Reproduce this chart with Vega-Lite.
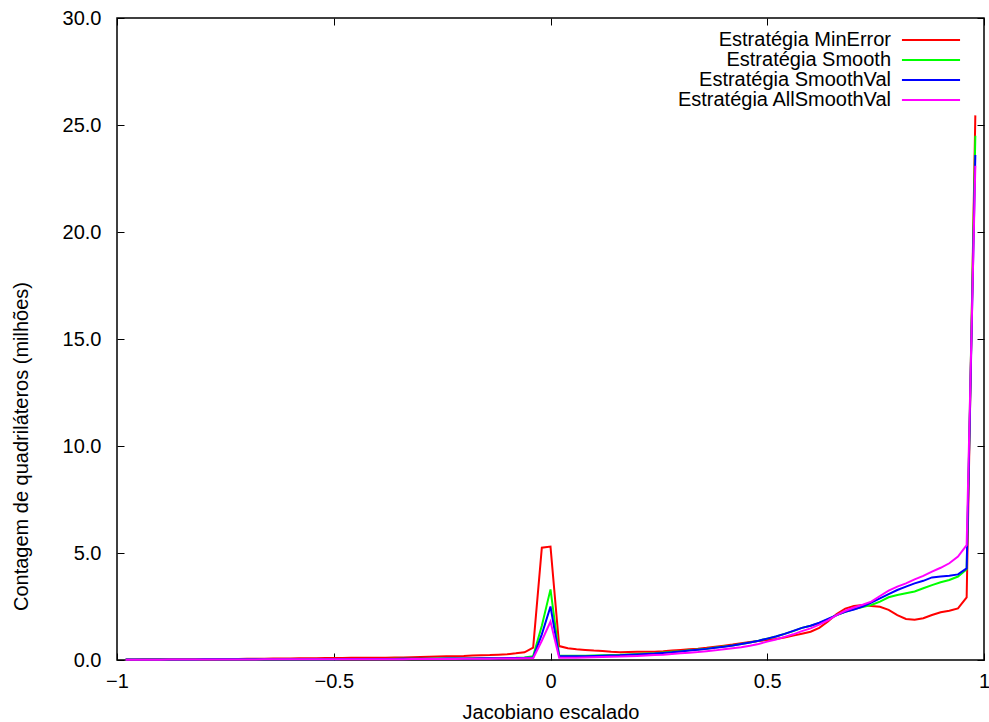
{
  "$schema": "https://vega.github.io/schema/vega-lite/v6.json",
  "width": 867,
  "height": 642,
  "autosize": "none",
  "padding": {"left": 117, "top": 18, "right": 5, "bottom": 62},
  "background": "white",
  "config": {
    "font": "Liberation Sans",
    "view": {"stroke": "black", "strokeWidth": 1.5},
    "axis": {
      "grid": false,
      "domain": false,
      "tickColor": "black",
      "tickWidth": 1,
      "labelColor": "black",
      "titleColor": "black",
      "labelFontSize": 20,
      "titleFontSize": 20,
      "titleFontWeight": "normal",
      "labelFlush": false
    }
  },
  "data": {
    "values": [
      {"x": -0.98, "MinError": 0.02, "Smooth": 0.02, "SmoothVal": 0.02, "AllSmoothVal": 0.01},
      {"x": -0.96, "MinError": 0.02, "Smooth": 0.02, "SmoothVal": 0.02, "AllSmoothVal": 0.01},
      {"x": -0.94, "MinError": 0.03, "Smooth": 0.02, "SmoothVal": 0.02, "AllSmoothVal": 0.01},
      {"x": -0.92, "MinError": 0.03, "Smooth": 0.02, "SmoothVal": 0.02, "AllSmoothVal": 0.01},
      {"x": -0.90, "MinError": 0.03, "Smooth": 0.02, "SmoothVal": 0.02, "AllSmoothVal": 0.01},
      {"x": -0.88, "MinError": 0.03, "Smooth": 0.02, "SmoothVal": 0.02, "AllSmoothVal": 0.02},
      {"x": -0.86, "MinError": 0.03, "Smooth": 0.02, "SmoothVal": 0.02, "AllSmoothVal": 0.02},
      {"x": -0.84, "MinError": 0.04, "Smooth": 0.02, "SmoothVal": 0.02, "AllSmoothVal": 0.02},
      {"x": -0.82, "MinError": 0.04, "Smooth": 0.02, "SmoothVal": 0.02, "AllSmoothVal": 0.02},
      {"x": -0.80, "MinError": 0.04, "Smooth": 0.03, "SmoothVal": 0.03, "AllSmoothVal": 0.02},
      {"x": -0.78, "MinError": 0.04, "Smooth": 0.03, "SmoothVal": 0.03, "AllSmoothVal": 0.02},
      {"x": -0.76, "MinError": 0.05, "Smooth": 0.03, "SmoothVal": 0.03, "AllSmoothVal": 0.02},
      {"x": -0.74, "MinError": 0.05, "Smooth": 0.03, "SmoothVal": 0.03, "AllSmoothVal": 0.02},
      {"x": -0.72, "MinError": 0.05, "Smooth": 0.03, "SmoothVal": 0.03, "AllSmoothVal": 0.02},
      {"x": -0.70, "MinError": 0.06, "Smooth": 0.03, "SmoothVal": 0.03, "AllSmoothVal": 0.02},
      {"x": -0.68, "MinError": 0.06, "Smooth": 0.03, "SmoothVal": 0.03, "AllSmoothVal": 0.02},
      {"x": -0.66, "MinError": 0.06, "Smooth": 0.03, "SmoothVal": 0.03, "AllSmoothVal": 0.03},
      {"x": -0.64, "MinError": 0.07, "Smooth": 0.03, "SmoothVal": 0.03, "AllSmoothVal": 0.03},
      {"x": -0.62, "MinError": 0.07, "Smooth": 0.03, "SmoothVal": 0.03, "AllSmoothVal": 0.03},
      {"x": -0.60, "MinError": 0.07, "Smooth": 0.04, "SmoothVal": 0.04, "AllSmoothVal": 0.03},
      {"x": -0.58, "MinError": 0.08, "Smooth": 0.04, "SmoothVal": 0.04, "AllSmoothVal": 0.03},
      {"x": -0.56, "MinError": 0.08, "Smooth": 0.04, "SmoothVal": 0.04, "AllSmoothVal": 0.03},
      {"x": -0.54, "MinError": 0.08, "Smooth": 0.04, "SmoothVal": 0.04, "AllSmoothVal": 0.03},
      {"x": -0.52, "MinError": 0.09, "Smooth": 0.04, "SmoothVal": 0.04, "AllSmoothVal": 0.03},
      {"x": -0.50, "MinError": 0.09, "Smooth": 0.04, "SmoothVal": 0.04, "AllSmoothVal": 0.03},
      {"x": -0.48, "MinError": 0.09, "Smooth": 0.05, "SmoothVal": 0.05, "AllSmoothVal": 0.03},
      {"x": -0.46, "MinError": 0.10, "Smooth": 0.05, "SmoothVal": 0.05, "AllSmoothVal": 0.04},
      {"x": -0.44, "MinError": 0.10, "Smooth": 0.05, "SmoothVal": 0.05, "AllSmoothVal": 0.04},
      {"x": -0.42, "MinError": 0.10, "Smooth": 0.05, "SmoothVal": 0.05, "AllSmoothVal": 0.04},
      {"x": -0.40, "MinError": 0.11, "Smooth": 0.05, "SmoothVal": 0.05, "AllSmoothVal": 0.04},
      {"x": -0.38, "MinError": 0.11, "Smooth": 0.05, "SmoothVal": 0.05, "AllSmoothVal": 0.04},
      {"x": -0.36, "MinError": 0.12, "Smooth": 0.06, "SmoothVal": 0.05, "AllSmoothVal": 0.04},
      {"x": -0.34, "MinError": 0.12, "Smooth": 0.06, "SmoothVal": 0.06, "AllSmoothVal": 0.04},
      {"x": -0.32, "MinError": 0.13, "Smooth": 0.06, "SmoothVal": 0.06, "AllSmoothVal": 0.05},
      {"x": -0.30, "MinError": 0.14, "Smooth": 0.06, "SmoothVal": 0.06, "AllSmoothVal": 0.05},
      {"x": -0.28, "MinError": 0.15, "Smooth": 0.06, "SmoothVal": 0.06, "AllSmoothVal": 0.05},
      {"x": -0.26, "MinError": 0.16, "Smooth": 0.07, "SmoothVal": 0.06, "AllSmoothVal": 0.05},
      {"x": -0.24, "MinError": 0.17, "Smooth": 0.07, "SmoothVal": 0.07, "AllSmoothVal": 0.05},
      {"x": -0.22, "MinError": 0.18, "Smooth": 0.07, "SmoothVal": 0.07, "AllSmoothVal": 0.05},
      {"x": -0.20, "MinError": 0.19, "Smooth": 0.07, "SmoothVal": 0.07, "AllSmoothVal": 0.06},
      {"x": -0.18, "MinError": 0.21, "Smooth": 0.08, "SmoothVal": 0.07, "AllSmoothVal": 0.06},
      {"x": -0.16, "MinError": 0.22, "Smooth": 0.08, "SmoothVal": 0.08, "AllSmoothVal": 0.06},
      {"x": -0.14, "MinError": 0.23, "Smooth": 0.08, "SmoothVal": 0.08, "AllSmoothVal": 0.06},
      {"x": -0.12, "MinError": 0.25, "Smooth": 0.09, "SmoothVal": 0.08, "AllSmoothVal": 0.07},
      {"x": -0.10, "MinError": 0.27, "Smooth": 0.09, "SmoothVal": 0.09, "AllSmoothVal": 0.07},
      {"x": -0.08, "MinError": 0.31, "Smooth": 0.10, "SmoothVal": 0.09, "AllSmoothVal": 0.07},
      {"x": -0.06, "MinError": 0.36, "Smooth": 0.12, "SmoothVal": 0.10, "AllSmoothVal": 0.08},
      {"x": -0.04, "MinError": 0.58, "Smooth": 0.18, "SmoothVal": 0.12, "AllSmoothVal": 0.08},
      {"x": -0.02, "MinError": 5.25, "Smooth": 1.6, "SmoothVal": 1.2, "AllSmoothVal": 0.9},
      {"x": 0.00, "MinError": 5.30, "Smooth": 3.3, "SmoothVal": 2.5, "AllSmoothVal": 1.8},
      {"x": 0.02, "MinError": 0.65, "Smooth": 0.20, "SmoothVal": 0.17, "AllSmoothVal": 0.10},
      {"x": 0.04, "MinError": 0.55, "Smooth": 0.20, "SmoothVal": 0.17, "AllSmoothVal": 0.10},
      {"x": 0.06, "MinError": 0.50, "Smooth": 0.20, "SmoothVal": 0.17, "AllSmoothVal": 0.11},
      {"x": 0.08, "MinError": 0.47, "Smooth": 0.20, "SmoothVal": 0.18, "AllSmoothVal": 0.12},
      {"x": 0.10, "MinError": 0.44, "Smooth": 0.21, "SmoothVal": 0.19, "AllSmoothVal": 0.13},
      {"x": 0.12, "MinError": 0.42, "Smooth": 0.22, "SmoothVal": 0.20, "AllSmoothVal": 0.14},
      {"x": 0.14, "MinError": 0.38, "Smooth": 0.23, "SmoothVal": 0.21, "AllSmoothVal": 0.15},
      {"x": 0.16, "MinError": 0.36, "Smooth": 0.24, "SmoothVal": 0.22, "AllSmoothVal": 0.16},
      {"x": 0.18, "MinError": 0.37, "Smooth": 0.26, "SmoothVal": 0.24, "AllSmoothVal": 0.18},
      {"x": 0.20, "MinError": 0.38, "Smooth": 0.28, "SmoothVal": 0.26, "AllSmoothVal": 0.19},
      {"x": 0.22, "MinError": 0.38, "Smooth": 0.30, "SmoothVal": 0.28, "AllSmoothVal": 0.21},
      {"x": 0.24, "MinError": 0.39, "Smooth": 0.32, "SmoothVal": 0.30, "AllSmoothVal": 0.23},
      {"x": 0.26, "MinError": 0.41, "Smooth": 0.35, "SmoothVal": 0.33, "AllSmoothVal": 0.25},
      {"x": 0.28, "MinError": 0.44, "Smooth": 0.38, "SmoothVal": 0.36, "AllSmoothVal": 0.28},
      {"x": 0.30, "MinError": 0.47, "Smooth": 0.41, "SmoothVal": 0.40, "AllSmoothVal": 0.31},
      {"x": 0.32, "MinError": 0.50, "Smooth": 0.45, "SmoothVal": 0.44, "AllSmoothVal": 0.34},
      {"x": 0.34, "MinError": 0.53, "Smooth": 0.49, "SmoothVal": 0.48, "AllSmoothVal": 0.37},
      {"x": 0.36, "MinError": 0.57, "Smooth": 0.53, "SmoothVal": 0.52, "AllSmoothVal": 0.41},
      {"x": 0.38, "MinError": 0.62, "Smooth": 0.58, "SmoothVal": 0.57, "AllSmoothVal": 0.45},
      {"x": 0.40, "MinError": 0.67, "Smooth": 0.63, "SmoothVal": 0.62, "AllSmoothVal": 0.50},
      {"x": 0.42, "MinError": 0.72, "Smooth": 0.68, "SmoothVal": 0.68, "AllSmoothVal": 0.55},
      {"x": 0.44, "MinError": 0.78, "Smooth": 0.75, "SmoothVal": 0.75, "AllSmoothVal": 0.60},
      {"x": 0.46, "MinError": 0.84, "Smooth": 0.82, "SmoothVal": 0.82, "AllSmoothVal": 0.67},
      {"x": 0.48, "MinError": 0.89, "Smooth": 0.90, "SmoothVal": 0.90, "AllSmoothVal": 0.75},
      {"x": 0.50, "MinError": 0.93, "Smooth": 1.00, "SmoothVal": 1.00, "AllSmoothVal": 0.86},
      {"x": 0.52, "MinError": 0.98, "Smooth": 1.10, "SmoothVal": 1.10, "AllSmoothVal": 0.96},
      {"x": 0.54, "MinError": 1.05, "Smooth": 1.22, "SmoothVal": 1.22, "AllSmoothVal": 1.08},
      {"x": 0.56, "MinError": 1.14, "Smooth": 1.35, "SmoothVal": 1.36, "AllSmoothVal": 1.20},
      {"x": 0.58, "MinError": 1.23, "Smooth": 1.50, "SmoothVal": 1.50, "AllSmoothVal": 1.35},
      {"x": 0.60, "MinError": 1.32, "Smooth": 1.60, "SmoothVal": 1.60, "AllSmoothVal": 1.48},
      {"x": 0.62, "MinError": 1.50, "Smooth": 1.72, "SmoothVal": 1.74, "AllSmoothVal": 1.65},
      {"x": 0.64, "MinError": 1.80, "Smooth": 1.90, "SmoothVal": 1.92, "AllSmoothVal": 1.85},
      {"x": 0.66, "MinError": 2.15, "Smooth": 2.10, "SmoothVal": 2.10, "AllSmoothVal": 2.10},
      {"x": 0.68, "MinError": 2.40, "Smooth": 2.25, "SmoothVal": 2.25, "AllSmoothVal": 2.30},
      {"x": 0.70, "MinError": 2.52, "Smooth": 2.38, "SmoothVal": 2.36, "AllSmoothVal": 2.45},
      {"x": 0.72, "MinError": 2.57, "Smooth": 2.48, "SmoothVal": 2.50, "AllSmoothVal": 2.58},
      {"x": 0.74, "MinError": 2.52, "Smooth": 2.57, "SmoothVal": 2.68, "AllSmoothVal": 2.73},
      {"x": 0.76, "MinError": 2.49, "Smooth": 2.73, "SmoothVal": 2.88, "AllSmoothVal": 2.99},
      {"x": 0.78, "MinError": 2.34, "Smooth": 2.93, "SmoothVal": 3.08, "AllSmoothVal": 3.24},
      {"x": 0.80, "MinError": 2.10, "Smooth": 3.04, "SmoothVal": 3.27, "AllSmoothVal": 3.43},
      {"x": 0.82, "MinError": 1.92, "Smooth": 3.12, "SmoothVal": 3.43, "AllSmoothVal": 3.58},
      {"x": 0.84, "MinError": 1.88, "Smooth": 3.20, "SmoothVal": 3.58, "AllSmoothVal": 3.77},
      {"x": 0.86, "MinError": 1.95, "Smooth": 3.35, "SmoothVal": 3.70, "AllSmoothVal": 3.93},
      {"x": 0.88, "MinError": 2.10, "Smooth": 3.50, "SmoothVal": 3.86, "AllSmoothVal": 4.13},
      {"x": 0.90, "MinError": 2.23, "Smooth": 3.63, "SmoothVal": 3.90, "AllSmoothVal": 4.31},
      {"x": 0.92, "MinError": 2.30, "Smooth": 3.74, "SmoothVal": 3.94, "AllSmoothVal": 4.52},
      {"x": 0.94, "MinError": 2.41, "Smooth": 3.90, "SmoothVal": 4.00, "AllSmoothVal": 4.83},
      {"x": 0.96, "MinError": 2.93, "Smooth": 4.24, "SmoothVal": 4.28, "AllSmoothVal": 5.37},
      {"x": 0.98, "MinError": 25.45, "Smooth": 24.5, "SmoothVal": 23.6, "AllSmoothVal": 23.1}
    ]
  },
  "transform": [
    {"fold": ["MinError", "Smooth", "SmoothVal", "AllSmoothVal"], "as": ["serie", "v"]}
  ],
  "layer": [
    {
      "encoding": {
        "x": {
          "field": "x", "type": "quantitative",
          "scale": {"domain": [-1, 1], "nice": false},
          "axis": {
            "orient": "bottom", "values": [-1, -0.5, 0, 0.5, 1], "format": "~g",
            "title": "Jacobiano escalado", "tickSize": -7, "labelPadding": 18, "titlePadding": 11
          }
        },
        "y": {
          "field": "v", "type": "quantitative",
          "scale": {"domain": [0, 30], "nice": false},
          "axis": {
            "orient": "left", "values": [0, 5, 10, 15, 20, 25, 30], "format": ".1f",
            "title": "Contagem de quadriláteros (milhões)", "tickSize": -7, "labelPadding": 23,
            "titleX": -86, "titleY": 428, "titleAngle": -90, "titleAlign": "center", "titleBaseline": "bottom"
          }
        },
        "color": {
          "field": "serie", "type": "nominal",
          "scale": {
            "domain": ["MinError", "Smooth", "SmoothVal", "AllSmoothVal"],
            "range": ["#ff0000", "#00ff00", "#0000ff", "#ff00ff"]
          },
          "legend": {
            "title": null,
            "orient": "none",
            "legendX": 804,
            "legendY": 12,
            "padding": 0,
            "symbolType": "M-5,0L5,0",
            "symbolSize": 135,
            "symbolStrokeWidth": 2,
            "labelExpr": "'Estratégia ' + datum.label",
            "labelAlign": "right",
            "labelOffset": -50,
            "labelLimit": 400,
            "labelFontSize": 20,
            "labelColor": "black",
            "rowPadding": 0
          }
        }
      },
      "layer": [
        {"transform": [{"filter": "datum.serie === 'MinError'"}], "mark": {"type": "line", "strokeWidth": 2}},
        {"transform": [{"filter": "datum.serie === 'Smooth'"}], "mark": {"type": "line", "strokeWidth": 2}},
        {"transform": [{"filter": "datum.serie === 'SmoothVal'"}], "mark": {"type": "line", "strokeWidth": 2}},
        {"transform": [{"filter": "datum.serie === 'AllSmoothVal'"}], "mark": {"type": "line", "strokeWidth": 2}}
      ]
    },
    {
      "mark": {"type": "line", "opacity": 0},
      "encoding": {
        "x": {
          "field": "x", "type": "quantitative",
          "axis": {"orient": "top", "values": [-1, -0.5, 0, 0.5, 1], "labels": false, "title": null, "tickSize": -7}
        },
        "y": {
          "field": "v", "type": "quantitative",
          "axis": {"orient": "right", "values": [0, 5, 10, 15, 20, 25, 30], "labels": false, "title": null, "tickSize": -7}
        },
        "detail": {"field": "serie"}
      }
    }
  ],
  "resolve": {"axis": {"x": "independent", "y": "independent"}}
}
